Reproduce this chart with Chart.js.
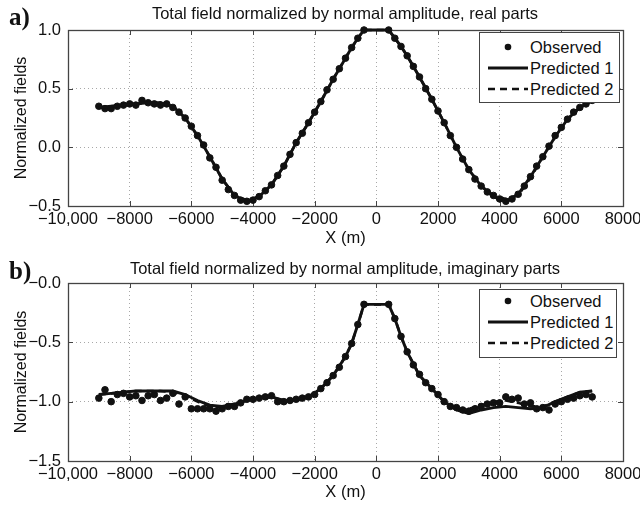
<!DOCTYPE html>
<html>
<head>
<meta charset="utf-8">
<script src="https://cdn.jsdelivr.net/npm/chart.js@4.4.0/dist/chart.umd.min.js"></script>
<style>
  body { margin: 0; background: #fff; }
  #wrap { position: relative; width: 640px; height: 508px; font-family: 'Liberation Sans', Arial, sans-serif; color: #111; }
  canvas { position: absolute; left: 0; }
  .panel { position: absolute; left: 9px; font: bold 25px 'Liberation Serif', 'Times New Roman', serif; line-height: 1; }
  .title { position: absolute; left: 95px; width: 500px; text-align: center; font-size: 16.5px; line-height: 1; white-space: nowrap; }
  .legend { position: absolute; left: 479px; width: 139px; background: #fff; border: 1px solid #444; font-size: 16.5px; }
  .legend .row { position: absolute; left: 0; height: 20px; width: 100%; }
  .legend svg { position: absolute; left: 6px; top: 0; }
  .legend span { position: absolute; left: 50px; top: 1px; line-height: 18px; white-space: nowrap; }
</style>
</head>
<body>
<div id="wrap">
  <canvas id="chartA" width="640" height="254" style="top:0"></canvas>
  <canvas id="chartB" width="640" height="254" style="top:254px"></canvas>

  <div class="panel" style="top:4px">a)</div>
  <div class="title" style="top:5px">Total field normalized by normal amplitude, real parts</div>
  <div class="legend" style="top:32px;height:69px">
    <div class="row" style="top:4px"><svg width="44" height="20"><circle cx="22" cy="10" r="3.3" fill="#111"/></svg><span>Observed</span></div>
    <div class="row" style="top:25px"><svg width="44" height="20"><line x1="2" y1="10" x2="42" y2="10" stroke="#111" stroke-width="2.8"/></svg><span>Predicted 1</span></div>
    <div class="row" style="top:46px"><svg width="44" height="20"><line x1="2" y1="10" x2="42" y2="10" stroke="#111" stroke-width="2.6" stroke-dasharray="7,5"/></svg><span>Predicted 2</span></div>
  </div>

  <div class="panel" style="top:258px">b)</div>
  <div class="title" style="top:260px">Total field normalized by normal amplitude, imaginary parts</div>
  <div class="legend" style="top:289px;height:67px;width:136px">
    <div class="row" style="top:1px"><svg width="44" height="20"><circle cx="22" cy="10" r="3.3" fill="#111"/></svg><span>Observed</span></div>
    <div class="row" style="top:22px"><svg width="44" height="20"><line x1="2" y1="10" x2="42" y2="10" stroke="#111" stroke-width="2.8"/></svg><span>Predicted 1</span></div>
    <div class="row" style="top:43px"><svg width="44" height="20"><line x1="2" y1="10" x2="42" y2="10" stroke="#111" stroke-width="2.6" stroke-dasharray="7,5"/></svg><span>Predicted 2</span></div>
  </div>
</div>

<script>
// ---- data ----
const xObs = [
  -9000, -8800, -8600, -8400, -8200, -8000, -7800, -7600, -7400, -7200,
  -7000, -6800, -6600, -6400, -6200, -6000, -5800, -5600, -5400, -5200,
  -5000, -4800, -4600, -4400, -4200, -4000, -3800, -3600, -3400, -3200,
  -3000, -2800, -2600, -2400, -2200, -2000, -1800, -1600, -1400, -1200,
  -1000, -800, -600, -400, -200, 0, 200, 400, 600, 800,
  1000, 1200, 1400, 1600, 1800, 2000, 2200, 2400, 2600, 2800,
  3000, 3200, 3400, 3600, 3800, 4000, 4200, 4400, 4600, 4800,
  5000, 5200, 5400, 5600, 5800, 6000, 6200, 6400, 6600, 6800,
  7000
];

// real parts, observed
const obsReal = [
  0.35, 0.33, 0.33, 0.35, 0.36, 0.37, 0.36, 0.40, 0.38, 0.37,
  0.36, 0.37, 0.34, 0.30, 0.25, 0.18, 0.10, 0.02, -0.09, -0.17,
  -0.28, -0.36, -0.41, -0.45, -0.46, -0.45, -0.42, -0.37, -0.32, -0.24,
  -0.16, -0.06, 0.04, 0.12, 0.21, 0.30, 0.39, 0.49, 0.58, 0.67,
  0.76, 0.85, 0.93, 1.00, null, null, null, 1.00, 0.93, 0.86,
  0.78, 0.69, 0.60, 0.50, 0.41, 0.31, 0.21, 0.10, 0.00, -0.10,
  -0.19, -0.27, -0.33, -0.38, -0.41, -0.44, -0.46, -0.44, -0.40, -0.33,
  -0.25, -0.16, -0.08, 0.01, 0.10, 0.17, 0.24, 0.30, 0.34, 0.37,
  0.40
];

// imaginary parts, observed
const obsImag = [
  -0.97, -0.90, -1.00, -0.94, -0.93, -0.96, -0.95, -0.99, -0.95, -0.94,
  -0.99, -0.97, -0.93, -1.02, -0.96, -1.06, -1.06, -1.06, -1.06, -1.08,
  -1.06, -1.04, -1.04, -1.01, -0.98, -0.98, -0.97, -0.96, -0.95, -1.00,
  -1.00, -0.99, -0.98, -0.97, -0.96, -0.94, -0.89, -0.84, -0.78, -0.71,
  -0.62, -0.51, -0.35, -0.18, null, null, null, -0.18, -0.30, -0.45,
  -0.58, -0.69, -0.77, -0.84, -0.89, -0.94, -1.00, -1.04, -1.05, -1.07,
  -1.08, -1.06, -1.04, -1.02, -1.01, -1.01, -0.96, -0.98, -0.97, -1.02,
  -1.01, -1.06, -1.05, -1.07, -1.02, -1.00, -0.98, -0.97, -0.95, -0.94,
  -0.96
];

const xPred = [
  -9000, -8600, -8200, -7800, -7400, -7000, -6600, -6200, -5800, -5400,
  -5000, -4600, -4200, -3800, -3400, -3000, -2600, -2200, -1800, -1400,
  -1000, -800, -600, -400, -200, 0, 200, 400, 600, 800,
  1000, 1400, 1800, 2200, 2600, 3000, 3400, 3800, 4200, 4600,
  5000, 5400, 5800, 6200, 6600, 7000
];

const pred1Real = [
  0.34, 0.35, 0.36, 0.37, 0.38, 0.38, 0.35, 0.25, 0.10, -0.08,
  -0.27, -0.41, -0.46, -0.42, -0.32, -0.16, 0.04, 0.21, 0.39, 0.58,
  0.76, 0.85, 0.93, 1.00, 1.00, 1.00, 1.00, 1.00, 0.93, 0.86,
  0.78, 0.60, 0.41, 0.21, 0.00, -0.19, -0.33, -0.42, -0.46, -0.40,
  -0.25, -0.08, 0.09, 0.24, 0.34, 0.40
];
const pred2Real = [
  0.34, 0.35, 0.36, 0.37, 0.38, 0.38, 0.35, 0.25, 0.10, -0.08,
  -0.27, -0.41, -0.45, -0.42, -0.32, -0.16, 0.04, 0.21, 0.39, 0.58,
  0.76, 0.85, 0.93, 1.00, 1.00, 1.00, 1.00, 1.00, 0.93, 0.86,
  0.78, 0.60, 0.41, 0.21, 0.00, -0.19, -0.33, -0.41, -0.44, -0.41,
  -0.26, -0.08, 0.09, 0.24, 0.34, 0.40
];

const pred1Imag = [
  -0.94, -0.93, -0.92, -0.91, -0.91, -0.91, -0.91, -0.94, -0.99, -1.03,
  -1.04, -1.02, -0.99, -0.97, -0.96, -0.99, -0.99, -0.96, -0.89, -0.78,
  -0.62, -0.51, -0.35, -0.18, -0.18, -0.18, -0.18, -0.18, -0.30, -0.45,
  -0.58, -0.78, -0.89, -1.00, -1.07, -1.10, -1.07, -1.05, -1.04, -1.05,
  -1.06, -1.05, -1.00, -0.96, -0.92, -0.91
];
const pred2Imag = [
  -0.94, -0.93, -0.92, -0.91, -0.91, -0.91, -0.92, -0.95, -1.00, -1.04,
  -1.05, -1.02, -0.99, -0.97, -0.96, -0.99, -0.99, -0.96, -0.89, -0.78,
  -0.62, -0.51, -0.35, -0.18, -0.18, -0.18, -0.18, -0.18, -0.30, -0.45,
  -0.58, -0.78, -0.89, -1.00, -1.06, -1.06, -1.03, -1.00, -0.99, -1.01,
  -1.04, -1.04, -1.00, -0.96, -0.92, -0.91
];

// tick labels
const xTickLabels = ['\u221210,000', '\u22128000', '\u22126000', '\u22124000', '\u22122000', '0', '2000', '4000', '6000', '8000'];
const yTickLabelsA = ['\u22120.5', '0.0', '0.5', '1.0'];
const yTickLabelsB = ['\u22121.5', '\u22121.0', '\u22120.5', '\u22120.0'];

Chart.defaults.font.family = "'Liberation Sans', Arial, sans-serif";
Chart.defaults.font.size = 16;
Chart.defaults.color = '#111';

// box round the plot area with inward tick marks (matlab style)
const frame = {
  id: 'frame',
  beforeDatasetsDraw(chart) {
    const { ctx, chartArea: a, scales: { x, y } } = chart;
    ctx.save();
    ctx.strokeStyle = '#444';
    ctx.lineWidth = 1;
    ctx.beginPath();
    x.ticks.forEach(t => {
      const px = Math.round(x.getPixelForValue(t.value)) + 0.5;
      ctx.moveTo(px, a.bottom); ctx.lineTo(px, a.bottom - 5);
      ctx.moveTo(px, a.top); ctx.lineTo(px, a.top + 5);
    });
    y.ticks.forEach(t => {
      const py = Math.round(y.getPixelForValue(t.value)) + 0.5;
      ctx.moveTo(a.left, py); ctx.lineTo(a.left + 5, py);
      ctx.moveTo(a.right, py); ctx.lineTo(a.right - 5, py);
    });
    ctx.stroke();
    ctx.lineWidth = 1.3;
    ctx.strokeRect(Math.round(a.left) + 0.5, Math.round(a.top) + 0.5, Math.round(a.width), Math.round(a.height));
    ctx.restore();
  }
};

function pts(xs, ys) {
  return xs.map((x, i) => ({ x: x, y: ys[i] })).filter(p => p.y !== null);
}

function makeChart(id, obs, p1, p2, yMin, yMax, yLabels, topPad, xAxisH) {
  return new Chart(document.getElementById(id), {
    type: 'scatter',
    data: {
      datasets: [
        {
          label: 'Predicted 1',
          data: pts(xPred, p1),
          showLine: true,
          borderColor: '#111',
          borderWidth: 2.9,
          pointRadius: 0,
          clip: false
        },
        {
          label: 'Predicted 2',
          data: pts(xPred, p2),
          showLine: true,
          borderColor: '#111',
          borderWidth: 2.6,
          borderDash: [7, 5],
          pointRadius: 0,
          clip: false
        },
        {
          label: 'Observed',
          data: pts(xObs, obs),
          backgroundColor: '#111',
          borderColor: '#111',
          pointRadius: 3.3,
          clip: false
        }
      ]
    },
    options: {
      responsive: false,
      animation: false,
      layout: { padding: { left: 0, right: 17, top: topPad, bottom: 0 } },
      plugins: { legend: { display: false }, tooltip: { enabled: false } },
      scales: {
        x: {
          type: 'linear',
          min: -10000,
          max: 8000,
          afterFit: s => { s.height = xAxisH; s.paddingLeft = 0; s.paddingRight = 0; },
          afterBuildTicks: s => { s.ticks = xTickLabels.map((_, i) => ({ value: -10000 + i * 2000 })); },
          ticks: { callback: (v, i) => xTickLabels[i], padding: 4, maxRotation: 0, autoSkip: false, font: { size: 16.5 } },
          grid: { color: '#a8a8a8', lineWidth: 1, drawTicks: false },
          border: { display: false, dash: [1, 3] },
          title: { display: true, text: 'X (m)', font: { size: 16.5 }, padding: { top: 0, bottom: 6 } }
        },
        y: {
          type: 'linear',
          min: yMin,
          max: yMax,
          afterFit: s => { s.width = 68; s.paddingTop = 0; s.paddingBottom = 0; },
          afterBuildTicks: s => { s.ticks = yLabels.map((_, i) => ({ value: yMin + i * 0.5 })); },
          ticks: { callback: (v, i) => yLabels[i], padding: 7, font: { size: 16.5 } },
          grid: { color: '#a8a8a8', lineWidth: 1, drawTicks: false },
          border: { display: false, dash: [1, 3] },
          title: { display: true, text: 'Normalized fields', font: { size: 16 }, padding: { top: 12, bottom: 0 } }
        }
      }
    },
    plugins: [frame]
  });
}

makeChart('chartA', obsReal, pred1Real, pred2Real, -0.5, 1.0, yTickLabelsA, 30, 48);
makeChart('chartB', obsImag, pred1Imag, pred2Imag, -1.5, 0, yTickLabelsB, 29, 47);
</script>
</body>
</html>
